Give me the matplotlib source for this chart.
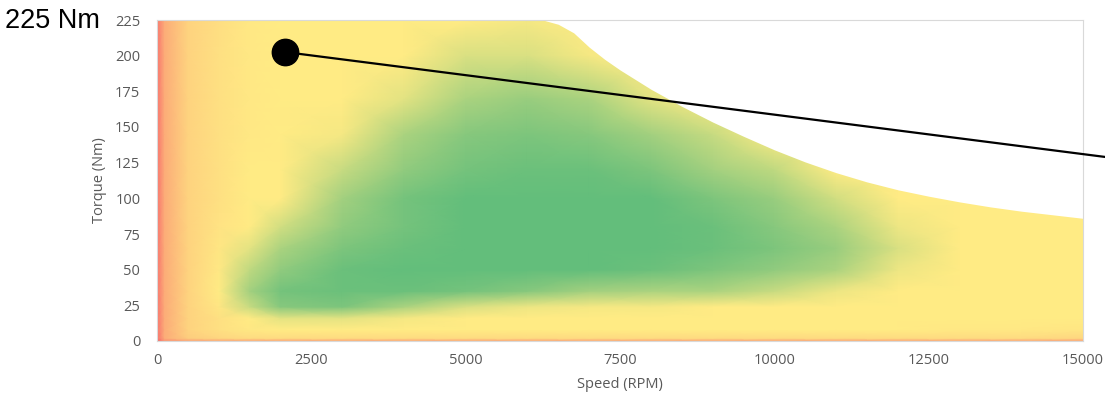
import matplotlib
matplotlib.use("Agg")
import matplotlib.pyplot as plt
from matplotlib.colors import LinearSegmentedColormap, Normalize
import numpy as np

# efficiency map grid, efficiency in %
speed_rpm = [0, 120, 500, 1000, 1500, 2000, 3000, 4000, 5000, 6000, 7000,
             8000, 9000, 10000, 11000, 12000, 13000, 14000, 15000]
torque_nm = [0, 2, 8, 16, 24, 35, 50, 65, 80, 100, 120, 145, 170, 200, 225]
efficiency = [
    [60, 68, 71, 72, 72, 72, 72, 72, 72, 72, 72, 72, 72, 72, 72, 72, 72, 72, 71],
    [61, 73, 79, 81, 82, 82, 82, 82, 82, 82, 82, 82, 82, 82, 82, 82, 82, 82, 81],
    [62, 73, 80.5, 83, 84.5, 85, 85.5, 85.5, 85.5, 85.5, 85.5, 85.5, 85.5, 85.5, 85.5, 85.5, 84.5, 84.5, 84],
    [62, 73, 80.5, 83, 86.5, 88.5, 88.5, 87.5, 87, 86, 86, 86, 86, 86, 86, 86, 86, 86, 85],
    [62, 73, 80.5, 84, 90, 93.5, 94, 91.5, 89, 88, 87.5, 87.5, 87, 86.5, 86, 86, 86, 86, 85.5],
    [62, 73, 80.5, 85, 92, 94.5, 95, 95, 94.5, 93.5, 92, 91.5, 91.5, 90, 88, 86.5, 86, 86, 86],
    [62, 73, 80.5, 84.5, 90.5, 93, 95, 95.5, 95.5, 96, 95.5, 95, 94, 93, 91.5, 88, 86, 86, 86],
    [62, 73, 80.5, 84, 88.5, 91.5, 94, 95, 95.5, 96, 96, 96, 95, 94, 92.5, 89, 86.5, 86, 86],
    [62, 73, 80.5, 83.5, 86.5, 89.5, 93, 94.5, 95.5, 96, 96, 96, 95, 93.5, 91.5, 88, 86, 86, 86],
    [62, 73, 80.5, 83, 85.5, 87, 92, 94.5, 95.5, 95.5, 96, 95.5, 94, 92.5, 89.5, 86.5, 86, 86, 86],
    [62, 73, 80.5, 83, 85, 86, 90, 93, 94.5, 95, 95, 94, 92, 90.5, 86.5, 86, 86, 86, 86],
    [62, 73, 80.5, 83, 84.5, 85, 87.5, 91.5, 93.5, 94, 93.5, 92, 90, 86.5, 86, 86, 86, 86, 86],
    [62, 73, 80.5, 83, 84.5, 85, 86, 88.5, 91.5, 92.5, 91.5, 88.5, 86.5, 86, 86, 86, 86, 86, 86],
    [62, 73, 80.5, 83, 84.5, 85, 85.5, 86.5, 89, 89, 87.5, 86.5, 86, 86, 86, 86, 86, 86, 86],
    [63, 73, 80.5, 82.5, 84.5, 85, 85.5, 86, 87, 87.5, 86.5, 86, 86, 86, 86, 86, 86, 86, 86],
]

# max torque envelope
env_speed = [0, 6250, 6500, 6750, 7000, 7250, 7500, 8000, 8500, 9000, 9500,
             10000, 10500, 11000, 11500, 12000, 12500, 13000, 13500, 14000,
             14500, 15000]
env_torque = [225, 225, 222, 216, 206, 197.5, 190, 176.5, 164.5, 153.5, 143.5,
              134, 125.5, 118, 111.5, 106, 101.5, 97.5, 94, 91,
              88.5, 86]

# callout point and leader line
callout_speed = [2080, 15360]
callout_torque = [202.5, 129]
callout_text = "225 Nm"

x_ticks = [0, 2500, 5000, 7500, 10000, 12500, 15000]
y_ticks = [0, 25, 50, 75, 100, 125, 150, 175, 200, 225]

plt.rcParams['font.family'] = ['Open Sans', 'DejaVu Sans']

# Excel style red - yellow - green colour scale (yellow held from 85 to 87 %)
eff_min, eff_max = 60, 95.5
def pos(v):
    return (v - eff_min) / (eff_max - eff_min)
cmap = LinearSegmentedColormap.from_list(
    'ryg', [(0, '#F8696B'), (pos(85), '#FFEB84'), (pos(87), '#FFEB84'),
            (1, '#63BE7B')])
norm = Normalize(vmin=eff_min, vmax=eff_max)

fig = plt.figure(figsize=(11.05, 3.97), dpi=100)
ax = fig.add_axes([157 / 1105, 1 - 341 / 397, 926 / 1105, 321 / 397])

ax.pcolormesh(speed_rpm, torque_nm, np.array(efficiency), shading='gouraud',
              cmap=cmap, norm=norm, zorder=1)

# blank out everything above the torque envelope
ax.fill_between(env_speed, env_torque, 240, color='white', lw=0, zorder=2)

ax.set_xlim(0, 15000)
ax.set_ylim(0, 225)
ax.set_xticks(x_ticks)
ax.set_yticks(y_ticks)
ax.tick_params(length=0, labelsize=10.5, labelcolor='#595959')
ax.tick_params(axis='x', pad=9)
ax.tick_params(axis='y', pad=12)
for s in ax.spines.values():
    s.set_color('#d9d9d9')
    s.set_linewidth(0.8)
    s.set_zorder(3)

ax.set_xlabel('Speed (RPM)', fontsize=10.5, color='#595959', labelpad=6)
ax.set_ylabel('Torque (Nm)', fontsize=10.5, color='#595959', labelpad=6)

# callout
ax.plot(callout_speed, callout_torque, color='black', lw=1.6,
        clip_on=False, zorder=5)
ax.plot(callout_speed[0], callout_torque[0], 'o', color='black',
        markersize=19, clip_on=False, zorder=6)
fig.text(5 / 1105, 1 - 21 / 397, callout_text, fontsize=19.5,
         family='Liberation Sans', va='center', ha='left', color='black')

fig.savefig('out.png', dpi=100)
